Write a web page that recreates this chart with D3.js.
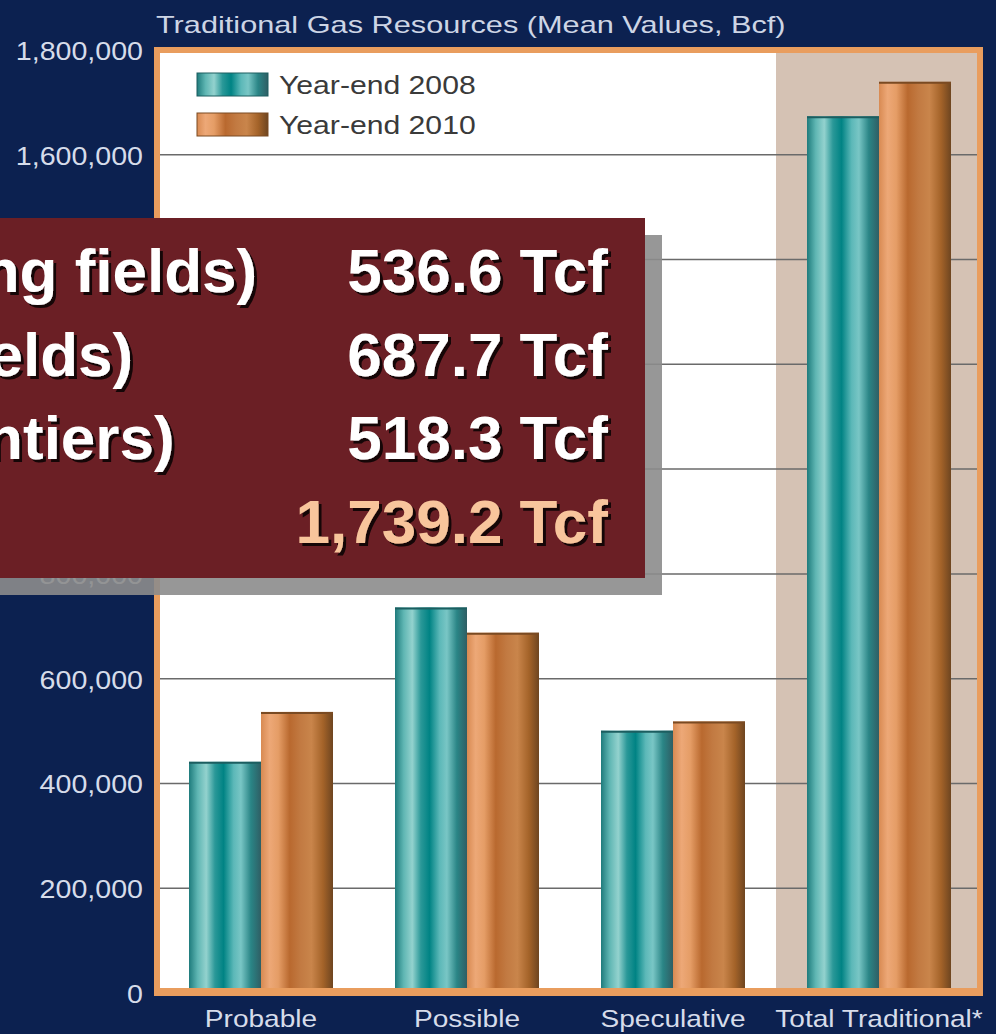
<!DOCTYPE html>
<html>
  <head>
    <meta charset="utf-8">
    <title>Traditional Gas Resources</title>
    <style media="screen">
    body{margin:0;background:#0c2150}
    svg{display:block}
    </style>
  </head>
  <body>
    <svg width="996" height="1034"></svg>
    <script src="https://d3js.org/d3.v7.min.js"></script>
    <script>

    // chart data (Bcf)
    var categories = ["Probable", "Possible", "Speculative", "Total Traditional*"];
    var series = ["Year-end 2008", "Year-end 2010"];
    var values2008 = [441300, 736000, 500800, 1673400];
    var values2010 = [536600, 687700, 518300, 1739200];
    var yTicks = [0, 200000, 400000, 600000, 800000, 1000000, 1200000, 1400000, 1600000, 1800000];
    var chartTitle = "Traditional Gas Resources (Mean Values, Bcf)";

    // the callout box laid over the chart
    var overlayLabels = ["Probable (existing fields)", "Possible (new fields)", "Speculative (frontiers)", "Total"];
    var overlayValues = ["536.6 Tcf", "687.7 Tcf", "518.3 Tcf", "1,739.2 Tcf"];

    var font = "'Liberation Sans', Arial, sans-serif";
    var svg = d3.select("svg");
    var defs = svg.append("defs");

    // cylinder-like gradients for the bars
    function grad(id, stops) {
      var g = defs.append("linearGradient").attr("id", id).attr("x1", 0).attr("y1", 0).attr("x2", 1).attr("y2", 0);
      stops.forEach(function(s) { g.append("stop").attr("offset", s[0]).attr("stop-color", s[1]); });
    }
    grad("teal", [[0, "#1e7b7c"], [0.12, "#5fb6b3"], [0.24, "#93d2ce"], [0.36, "#2a9898"], [0.48, "#008384"],
                  [0.62, "#5cb8b8"], [0.72, "#79c6c5"], [0.86, "#2a8586"], [1, "#2f5e64"]]);
    grad("copper", [[0, "#d88a52"], [0.12, "#eda877"], [0.24, "#e59d66"], [0.4, "#b9692f"], [0.55, "#c27a42"],
                    [0.7, "#c9854b"], [0.86, "#a46329"], [1, "#6e4520"]]);
    var fills = {"Year-end 2008": "url(#teal)", "Year-end 2010": "url(#copper)"};
    var tops = {"Year-end 2008": "#1c5e60", "Year-end 2010": "#7a4a22"};

    // text shadow for the callout
    defs.append("filter").attr("id", "tshadow").attr("x", "-5%").attr("y", "-20%").attr("width", "115%").attr("height", "150%")
      .append("feDropShadow").attr("dx", 3).attr("dy", 3).attr("stdDeviation", 0.6)
      .attr("flood-color", "#000").attr("flood-opacity", 0.8);

    // scales
    var x0 = d3.scaleBand().domain(categories).range([158, 982]);
    var x1 = d3.scaleBand().domain(series).range([31, 175]);
    var y = d3.scaleLinear().domain([0, 1800000]).range([993, 50]);

    // plot background
    svg.append("rect").attr("x", 157).attr("y", 50).attr("width", 824).attr("height", 942).attr("fill", "#ffffff");
    svg.append("rect").attr("x", x0(categories[3])).attr("y", 50)
      .attr("width", 980 - x0(categories[3])).attr("height", 942).attr("fill", "#d5c2b4");

    // gridlines
    svg.append("g").selectAll("line").data(yTicks.slice(1, -1)).enter().append("line")
      .attr("x1", 160).attr("x2", 978)
      .attr("y1", function(d) { return y(d); }).attr("y2", function(d) { return y(d); })
      .attr("stroke", "#6a6a6a").attr("stroke-width", 1.5);

    // bars
    var rows = categories.map(function(c, i) {
      return {cat: c, vals: [{s: series[0], v: values2008[i]}, {s: series[1], v: values2010[i]}]};
    });
    var grp = svg.append("g").selectAll("g").data(rows).enter().append("g")
      .attr("transform", function(d) { return "translate(" + x0(d.cat) + ",0)"; });
    grp.selectAll("rect").data(function(d) { return d.vals; }).enter().append("rect")
      .attr("x", function(d) { return x1(d.s); })
      .attr("y", function(d) { return y(d.v); })
      .attr("width", x1.bandwidth())
      .attr("height", function(d) { return y(0) - y(d.v); })
      .attr("fill", function(d) { return fills[d.s]; });
    grp.selectAll("line").data(function(d) { return d.vals; }).enter().append("line")
      .attr("x1", function(d) { return x1(d.s); })
      .attr("x2", function(d) { return x1(d.s) + x1.bandwidth(); })
      .attr("y1", function(d) { return y(d.v) + 1; })
      .attr("y2", function(d) { return y(d.v) + 1; })
      .attr("stroke", function(d) { return tops[d.s]; }).attr("stroke-width", 2);

    // orange frame
    var frame = svg.append("g").attr("fill", "#e99d5e");
    frame.append("rect").attr("x", 154).attr("y", 47).attr("width", 829).attr("height", 6);
    frame.append("rect").attr("x", 154).attr("y", 47).attr("width", 6).attr("height", 949);
    frame.append("rect").attr("x", 977).attr("y", 47).attr("width", 6).attr("height", 949);
    frame.append("rect").attr("x", 154).attr("y", 988).attr("width", 829).attr("height", 8);

    // legend
    var legend = svg.append("g").selectAll("g").data(series).enter().append("g")
      .attr("transform", function(d, i) { return "translate(197," + (73 + i * 40) + ")"; });
    legend.append("rect").attr("width", 71).attr("height", 23)
      .attr("fill", function(d) { return fills[d]; })
      .attr("stroke", function(d) { return tops[d]; }).attr("stroke-width", 1);
    legend.append("text").text(function(d) { return d; })
      .attr("transform", "translate(82,21) scale(1.16,1)")
      .attr("font-family", font).attr("font-size", 26).attr("fill", "#3a3a3a");

    // y axis
    var yAxis = svg.append("g").attr("transform", "translate(143,0)")
      .call(d3.axisLeft(y).tickValues(yTicks).tickFormat(d3.format(",")).tickSize(0).tickPadding(0));
    yAxis.select(".domain").remove();
    yAxis.selectAll("text").attr("x", 0).attr("dy", "0.36em")
      .attr("transform", "scale(1.1,1)")
      .attr("font-family", font).attr("font-size", 26).attr("fill", "#d6dcea");

    // x axis
    var xAxis = svg.append("g").attr("transform", "translate(0,996)")
      .call(d3.axisBottom(x0).tickSize(0).tickPadding(0));
    xAxis.select(".domain").remove();
    xAxis.selectAll("text").attr("y", 0).attr("dy", "1.28em")
      .attr("transform", "scale(1.17,1)")
      .attr("font-family", font).attr("font-size", 24).attr("fill", "#d6dcea");

    // title
    svg.append("text").text(chartTitle)
      .attr("transform", "translate(156,33) scale(1.28,1)")
      .attr("font-family", font).attr("font-size", 24).attr("fill", "#cdd5e5");

    // callout box with shadow
    svg.append("rect").attr("x", 0).attr("y", 235).attr("width", 662).attr("height", 360)
      .attr("fill", "#8c8c8c").attr("opacity", 0.9);
    svg.append("rect").attr("x", 0).attr("y", 218).attr("width", 645).attr("height", 360)
      .attr("fill", "#6b1f25");

    var box = svg.append("g").attr("font-family", font).attr("font-weight", "bold")
      .attr("font-size", 62).attr("filter", "url(#tshadow)");
    var lineY = d3.scaleLinear().domain([0, 3]).range([292, 543]);
    box.selectAll("text.lab").data(overlayLabels).enter().append("text").attr("class", "lab")
      .attr("x", -480).attr("y", function(d, i) { return lineY(i); })
      .attr("fill", "#ffffff").text(function(d) { return d; });
    box.selectAll("text.val").data(overlayValues).enter().append("text").attr("class", "val")
      .attr("x", 608).attr("y", function(d, i) { return lineY(i); })
      .attr("text-anchor", "end")
      .attr("fill", function(d, i) { return i === overlayValues.length - 1 ? "#f8c59c" : "#ffffff"; })
      .text(function(d) { return d; });

    </script>
  </body>
</html>
